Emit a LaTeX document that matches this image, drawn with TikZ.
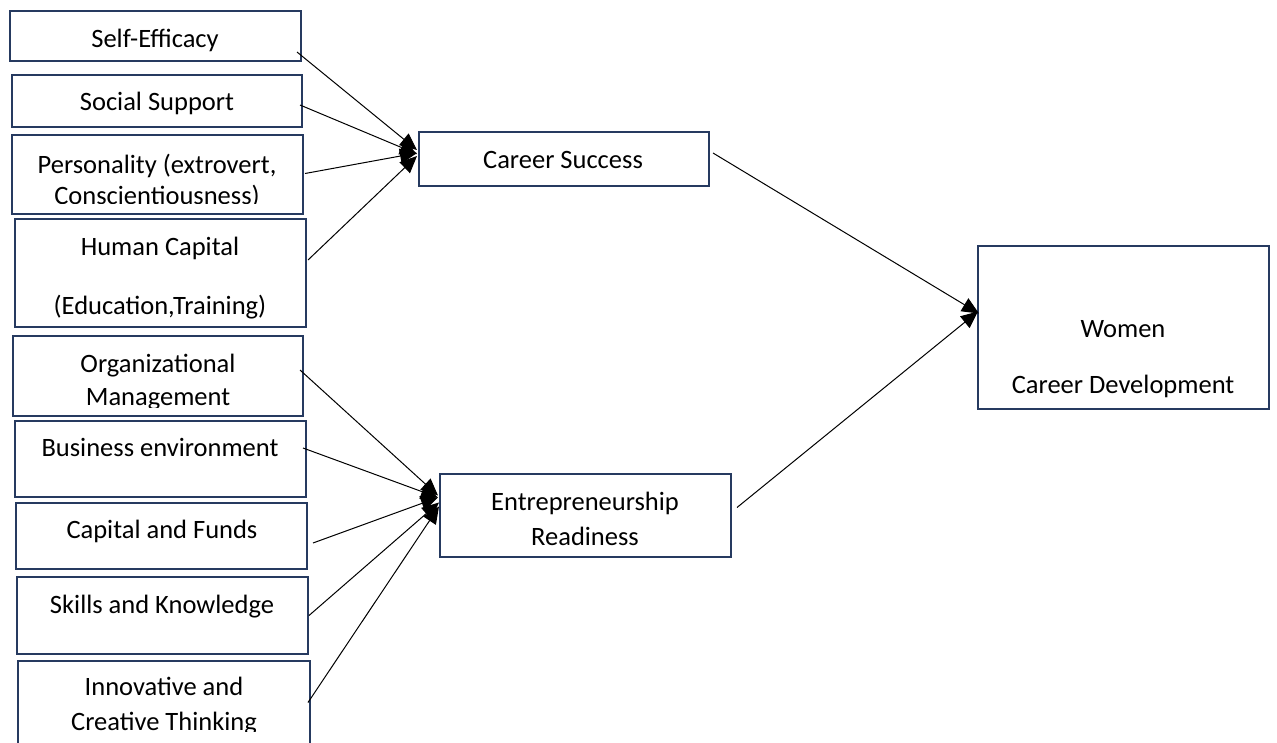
\documentclass[tikz,border=0pt]{standalone}
\usepackage{fontspec}
\setmainfont{Carlito}
\usetikzlibrary{arrows.meta,calc}
\definecolor{navy}{RGB}{38,58,96}
\begin{document}
\begin{tikzpicture}[x=1pt,y=-1pt,
  box/.style={draw=navy,line width=2.2pt,fill=white,inner sep=0pt,outer sep=0pt,anchor=north west},
  lbl/.style={font=\fontsize{26.5}{31}\selectfont,align=center,anchor=base,inner sep=0pt},
  link/.style={line width=1pt,-{Triangle[length=17pt,width=15pt]}}]
\useasboundingbox (0,0) rectangle (1277,742);
% boxes
\node[box,minimum width=291,minimum height=50] (se) at (10,11) {};
\node[box,minimum width=290,minimum height=52] (ss) at (12,75) {};
\node[box,minimum width=291,minimum height=79] (pe) at (12,135) {};
\node[box,minimum width=291,minimum height=108] (hc) at (15,219) {};
\node[box,minimum width=290,minimum height=80] (om) at (13,336) {};
\node[box,minimum width=291,minimum height=76] (be) at (15,421) {};
\node[box,minimum width=291,minimum height=66] (cf) at (16,503) {};
\node[box,minimum width=291,minimum height=77] (sk) at (17,577) {};
\node[box,minimum width=292,minimum height=89] (it) at (18,661) {};
\node[box,minimum width=290,minimum height=54] (cs) at (419,132) {};
\node[box,minimum width=291,minimum height=83] (er) at (440,474) {};
\node[box,minimum width=291,minimum height=163] (wcd) at (978,246) {};
% labels (anchor = baseline of the last line)
\node[lbl] (tse) at (155,47) {Self-Efficacy};
\node[lbl] (tss) at (157,110) {Social Support};
\begin{scope}
\clip (pe.north west) rectangle ($(pe.south east)+(0,-11)$);
\node[lbl] (tpe) at (157,204) {Personality (extrovert,\\Conscientiousness)};
\end{scope}
\node[lbl] (thc) at (160,314) {Human Capital\\[28pt](Education,Training)};
\begin{scope}
\clip (om.north west) rectangle ($(om.south east)+(0,-9)$);
\node[lbl] (tom) at (158,405) {Organizational\\[2pt]Management};
\end{scope}
\node[lbl] (tbe) at (160,456) {Business environment};
\node[lbl] (tcf) at (162,538) {Capital and Funds};
\node[lbl] (tsk) at (162,613) {Skills and Knowledge};
\begin{scope}
\clip (it.north west) rectangle ($(it.south east)+(0,-19)$);
\node[lbl] (tit) at (164,730) {Innovative and\\[4pt]Creative Thinking};
\end{scope}
\node[lbl] (tcs) at (563,168) {Career Success};
\node[lbl] (ter) at (585,545) {Entrepreneurship\\[4pt]Readiness};
\node[lbl] (twcd) at (1123,393) {Women\\[25pt]Career Development};
% connectors
\draw[link] ($(se.east)+(-4,16)$) -- ($(cs.west)+(-2,-9)$);
\draw[link] ($(ss.east)+(-2,4)$) -- ($(cs.west)+(-2,-5)$);
\draw[link] ($(pe.east)+(2,-1)$) -- ($(cs.west)+(-2,-6)$);
\draw[link] ($(hc.east)+(2,-13)$) -- ($(cs.west)+(-2,-3)$);
\draw[link] ($(om.east)+(-3,-6)$) -- ($(er.west)+(-2,-20)$);
\draw[link] ($(be.east)+(-3,-11)$) -- ($(er.west)+(-2,-18)$);
\draw[link] ($(cf.east)+(6,7)$) -- ($(er.west)+(-2,-18)$);
\draw[link] ($(sk.east)+(1,0)$) -- ($(er.west)+(-1,-13)$);
\draw[link] ($(it.east)+(-2,-3)$) -- ($(er.west)+(-1,-9)$);
\draw[link] ($(cs.east)+(4,-6)$) -- ($(wcd.west)+(1,-14)$);
\draw[link] ($(er.east)+(6,-8)$) -- ($(wcd.west)+(0,-16)$);
\end{tikzpicture}
\end{document}
